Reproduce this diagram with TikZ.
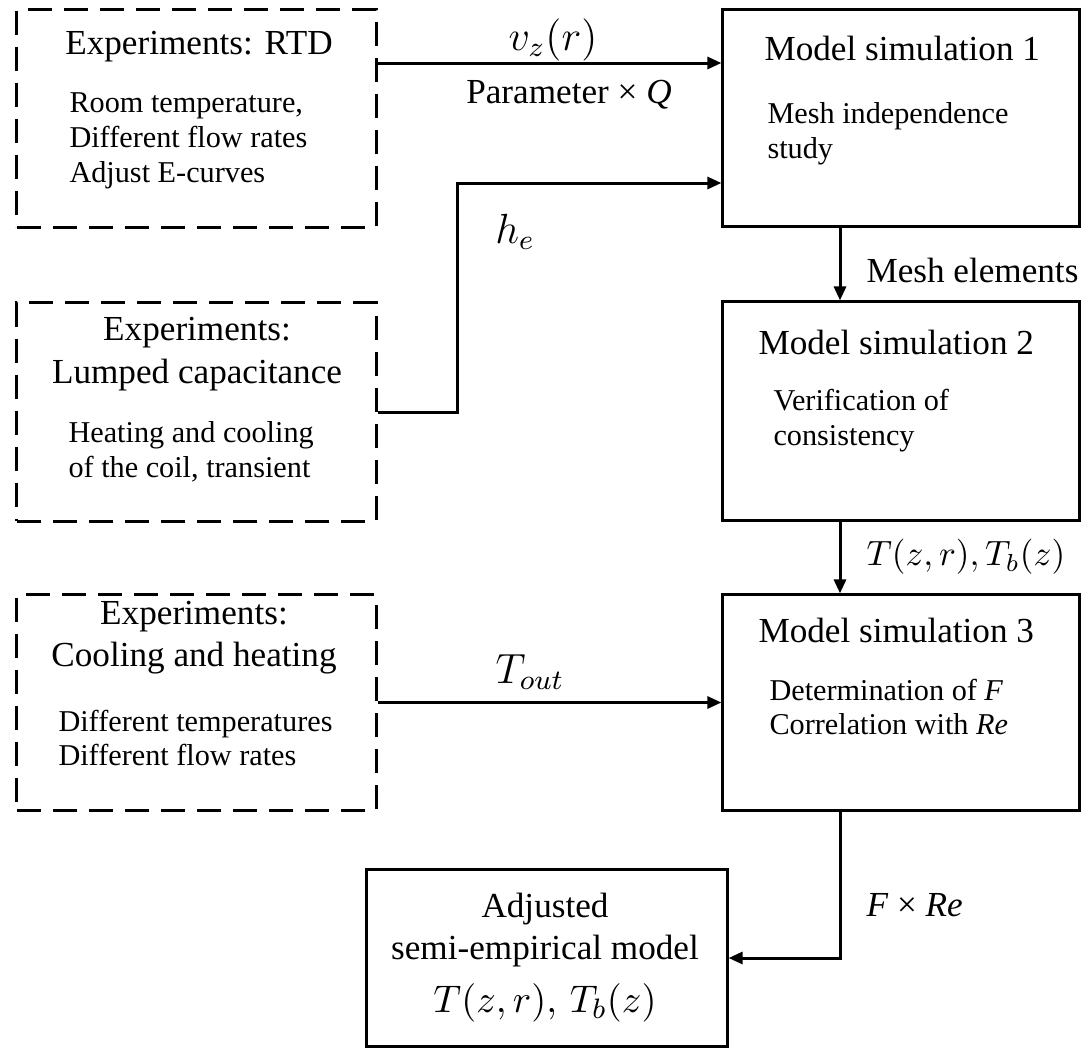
\documentclass[tikz,border=0pt]{standalone}
\usepackage{amsmath,amssymb}
\usepackage{fontspec}
\setmainfont{Liberation Serif}
\usetikzlibrary{arrows.meta}

\begin{document}
\begin{tikzpicture}[x=.01cm,y=-.01cm,line width=.3mm,>={Triangle[length=1.4mm,width=1.2mm]},
        expbox/.style={draw,dash pattern=on 2.4mm off 1.2mm,minimum width=3.59cm,minimum height=2.17cm},
        simbox/.style={draw,minimum width=3.56cm,minimum height=2.16cm},
        head/.style={font=\fontsize{10}{12}\selectfont,inner sep=0pt,align=center},
        body/.style={font=\fontsize{8.6}{9.9}\selectfont,inner sep=0pt,align=left,anchor=west},
        lbl/.style={font=\fontsize{10}{12}\selectfont,inner sep=0pt},
        mlbl/.style={font=\fontsize{11.5}{13}\selectfont,inner sep=0pt}]
        \useasboundingbox (0,0) rectangle (1081,1048);

        % experiments
        \node[expbox] (rtd) at (196.5,118.5) {};
        \node[expbox,minimum height=2.18cm] (lump) at (196.5,412) {};
        \node[expbox,minimum height=2.15cm] (cool) at (196.5,702.5) {};

        \node[head] (rtd_t) at (199,47) {Experiments: RTD};
        \node[body] (rtd_b) at (68,141) {Room temperature,\\Different flow rates\\Adjust E-curves};
        \node[head] (lump_t) at (197,354) {Experiments:\\Lumped capacitance};
        \node[body] (lump_b) at (67,452) {Heating and cooling\\of the coil, transient};
        \node[head] (cool_t) at (194,638) {Experiments:\\Cooling and heating};
        \node[body] (cool_b) at (57,738) {Different temperatures\\Different flow rates};

        % simulations
        \node[simbox] (sim1) at (901,118) {};
        \node[simbox,minimum height=2.18cm] (sim2) at (901,411) {};
        \node[simbox,minimum height=2.15cm] (sim3) at (901,702.5) {};
        \node[draw,minimum width=3.6cm,minimum height=1.76cm] (model) at (547,958) {};

        \node[head,anchor=west] (sim1_t) at (763,48) {Model simulation 1};
        \node[body] (sim1_b) at (766,134) {Mesh independence\\study};
        \node[head,anchor=west] (sim2_t) at (757,342) {Model simulation 2};
        \node[body] (sim2_b) at (772,421) {Verification of\\consistency};
        \node[head,anchor=west] (sim3_t) at (757,630) {Model simulation 3};
        \node[body] (sim3_b) at (768,707) {Determination of \textit{F}\\Correlation with \textit{Re}};
        \node[head] (model_t) at (545,930) {Adjusted\\semi-empirical model};
        \node[mlbl,font=\fontsize{11}{13}\selectfont] (model_b) at (545,1003) {$T(z,r),\,T_b(z)$};

        % labels
        \node[mlbl] (vz) at (553,40) {$v_z(r)$};
        \node[lbl] (par) at (569,95) {Parameter × \textit{Q}};
        \node[mlbl] (he) at (515,232) {$h_e$};
        \node[lbl,anchor=west] (mesh) at (865,270) {Mesh elements};
        \node[mlbl,font=\fontsize{10}{12}\selectfont,anchor=west] (tzr) at (865,557) {$T(z,r),T_b(z)$};
        \node[mlbl] (tout) at (530,672) {$T_{out}$};
        \node[lbl,anchor=west] (fre) at (865,905) {\textit{F} × \textit{Re}};

        \coordinate (a1) at (550,63);
        \coordinate (hbend) at (457,183);
        \coordinate (col) at (840,0);

        \draw[->] (rtd.east |- a1) -- (sim1.west |- a1);
        \draw[->] (lump.east) -| (hbend) -- (sim1.west |- hbend);
        \draw[->] (sim1.south -| col) -- (sim2.north -| col);
        \draw[->] (sim2.south -| col) -- (sim3.north -| col);
        \draw[->] (cool.east) -- (sim3.west);
        \draw[->] (sim3.south -| col) |- (model.east);

    \end{tikzpicture}
\end{document}
